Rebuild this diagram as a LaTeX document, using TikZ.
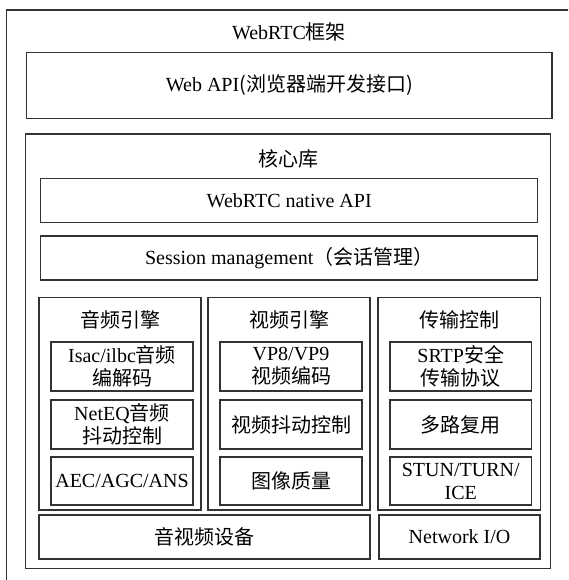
\documentclass[tikz,border=0pt]{standalone}
\usepackage{fontspec}
\setmainfont{Liberation Serif}
\newfontfamily\cjk{Noto Sans CJK SC}
\begin{document}
\begin{tikzpicture}[x=1pt,y=-1pt,
  box/.style={draw=black!80, line width=1.2pt, inner sep=0pt, align=center,
    font=\fontsize{20}{23}\selectfont},
  lbl/.style={inner sep=0pt, align=center, font=\fontsize{20}{23}\selectfont}]
\useasboundingbox (0,0) rectangle (568,580);
\clip (0,0) rectangle (568,580);
% outer frame (extends beyond the picture at right and bottom)
\node[box, minimum width=600pt, minimum height=600pt, anchor=north west] (outer) at (5.5,9.5) {};
\node[lbl] (title) at (289,32) {WebRTC{\cjk 框架}};
\node[box, minimum width=525.3pt, minimum height=66pt] (webapi) at (289.35,85.3) {Web API{\cjk (浏览器端开发接口)}};
% core library
\node[box, minimum width=525pt, minimum height=434.3pt] (core) at (288.2,351.15) {};
\node[lbl] (coret) at (288,159) {\cjk 核心库};
\node[box, minimum width=497pt, minimum height=43.6pt] (native) at (289.2,200.5) {WebRTC native API};
\node[box, minimum width=497pt, minimum height=44pt] (session) at (289.2,258) {Session management{\cjk （会话管理）}};
% columns
\node[box, minimum width=162pt, minimum height=212.3pt] (audio) at (120,403.85) {};
\node[box, minimum width=162pt, minimum height=212.3pt] (video) at (289,403.85) {};
\node[box, minimum width=162.5pt, minimum height=212.3pt] (trans) at (459.25,403.85) {};
\node[lbl] (audiot) at (120,320) {\cjk 音频引擎};
\node[lbl] (videot) at (289,320) {\cjk 视频引擎};
\node[lbl] (transt) at (459.25,320) {\cjk 传输控制};
% audio engine
\node[box, minimum width=142pt, minimum height=49pt] (a1) at (122,366.5) {Isac/ilbc{\cjk 音频}\\{\cjk 编解码}};
\node[box, minimum width=142pt, minimum height=49pt] (a2) at (122,424.5) {NetEQ{\cjk 音频}\\{\cjk 抖动控制}};
\node[box, minimum width=142pt, minimum height=48pt] (a3) at (122,481) {AEC/AGC/ANS};
% video engine
\node[box, minimum width=142pt, minimum height=49pt] (v1) at (291,366.5) {VP8/VP9\\{\cjk 视频编码}};
\node[box, minimum width=142pt, minimum height=49pt] (v2) at (291,424.5) {\cjk 视频抖动控制};
\node[box, minimum width=142pt, minimum height=48pt] (v3) at (291,481) {\cjk 图像质量};
% transport
\node[box, minimum width=141.5pt, minimum height=49pt] (t1) at (460.75,366.5) {SRTP{\cjk 安全}\\{\cjk 传输协议}};
\node[box, minimum width=141.5pt, minimum height=49pt] (t2) at (460.75,424.5) {\cjk 多路复用};
\node[box, minimum width=141.5pt, minimum height=48pt] (t3) at (460.75,481) {STUN/TURN/\\ICE};
% bottom
\node[box, minimum width=331pt, minimum height=44pt] (dev) at (204.5,537) {\cjk 音视频设备};
\node[box, minimum width=161pt, minimum height=44pt] (net) at (459.5,537) {Network I/O};
\end{tikzpicture}
\end{document}
